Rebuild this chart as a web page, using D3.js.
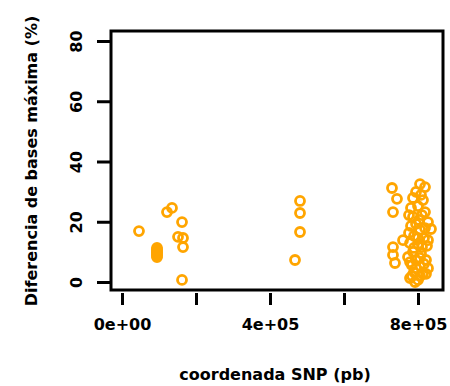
<!DOCTYPE html>
<html>
<head>
<meta charset="utf-8">
<script src="https://cdn.jsdelivr.net/npm/d3@7"></script>
<style>
  html, body { margin: 0; padding: 0; background: #fff; }
  svg text { font-family: "DejaVu Sans", sans-serif; font-weight: bold; fill: #000; }
</style>
</head>
<body>
<svg id="chart" width="450" height="386"></svg>
<script>
// SNP coordinate (bp)
const snpPos = [
  45900, 121600, 135100, 162200, 151400, 164900, 164900, 94600, 94600, 94600, 94600, 94600, 94600, 94600, 162200,
  481100, 481100, 481100, 467600,
  729700, 743200, 732400, 759500, 732400, 732400, 737800,
  805400, 818900, 786500, 813500, 800000, 781100, 818900, 786500, 802700, 827000,
  781100, 835100, 805400, 789200, 816200, 778400, 800000, 824300, 786500, 808100,
  773000, 794600, 821600, 783800, 805400, 827000, 789200, 813500, 800000, 778400,
  794600, 808100, 775700, 810800, 794600, 818900, 775700, 800000, 827000, 810800,
  789200, 778400, 805400, 816200, 794600, 821600, 783800, 805400, 792000
];
// maximum base difference (%)
const maxDiff = [
  16.9, 23.2, 24.6, 19.9, 15.0, 14.6, 11.6, 11.3, 10.8, 10.3, 9.8, 9.3, 8.8, 8.3, 0.7,
  26.9, 22.9, 16.6, 7.3,
  31.2, 27.6, 23.2, 13.9, 11.6, 9.0, 6.3,
  32.5, 31.5, 27.9, 27.2, 25.2, 24.6, 23.2, 21.6, 20.6, 19.9,
  18.6, 17.6, 17.3, 15.3, 14.6, 12.9, 12.6, 12.0, 10.0, 9.6,
  8.3, 7.3, 7.3, 5.6, 5.3, 4.6, 3.3, 2.7, 0.7, 1.3,
  29.9, 28.9, 22.2, 22.2, 19.3, 17.9, 16.3, 14.6, 13.9, 11.6,
  11.3, 6.6, 8.0, 6.0, 4.6, 2.7, 2.0, 2.0, 0.0
];
const xTicks = [0, 200000, 400000, 600000, 800000];
const xTickLabels = ["0e+00", "", "4e+05", "", "8e+05"];
const yTicks = [0, 20, 40, 60, 80];
const xTitle = "coordenada SNP (pb)";
const yTitle = "Diferencia de bases máxima (%)";

const svg = d3.select("#chart");
const box = { left: 111, right: 443, top: 31, bottom: 290 };

const x = d3.scaleLinear().domain([0, 800000]).range([122, 418]);
const y = d3.scaleLinear().domain([0, 80]).range([282, 41]);

// points
const pts = snpPos.map((p, i) => ({ p, v: maxDiff[i] }));
svg.append("g").selectAll("circle").data(pts).join("circle")
  .attr("cx", d => x(d.p)).attr("cy", d => y(d.v)).attr("r", 4.5)
  .attr("fill", "none").attr("stroke", "#FFA500").attr("stroke-width", 2.8);

// box
svg.append("rect")
  .attr("x", box.left).attr("y", box.top)
  .attr("width", box.right - box.left).attr("height", box.bottom - box.top)
  .attr("fill", "none").attr("stroke", "#000").attr("stroke-width", 3);

// x axis
const xAxis = d3.axisBottom(x).tickValues(xTicks)
  .tickFormat((d, i) => xTickLabels[i]).tickSize(12).tickPadding(14);
const gx = svg.append("g").attr("transform", `translate(0,${box.bottom + 3})`).call(xAxis);
gx.select(".domain").remove();
gx.selectAll(".tick line").attr("stroke", "#000").attr("stroke-width", 3);
gx.selectAll(".tick text").style("font-size", "16px").attr("fill", "#000");

// y axis
const yAxis = d3.axisLeft(y).tickValues(yTicks).tickSize(13).tickPadding(8);
const gy = svg.append("g").attr("transform", `translate(${box.left - 1},0)`).call(yAxis);
gy.select(".domain").remove();
gy.selectAll(".tick line").attr("stroke", "#000").attr("stroke-width", 3);
gy.selectAll(".tick text")
  .style("font-size", "16px").attr("fill", "#000")
  .attr("x", null).attr("dy", null)
  .attr("text-anchor", "middle")
  .attr("transform", "translate(-34,0) rotate(-90)")
  .attr("dominant-baseline", "central");

// titles
svg.append("text").attr("x", 275).attr("y", 380)
  .attr("text-anchor", "middle").style("font-size", "16px").text(xTitle);
svg.append("text").attr("transform", "translate(31,161) rotate(-90)")
  .attr("text-anchor", "middle").attr("dominant-baseline", "central")
  .style("font-size", "16px").text(yTitle);
</script>
</body>
</html>
